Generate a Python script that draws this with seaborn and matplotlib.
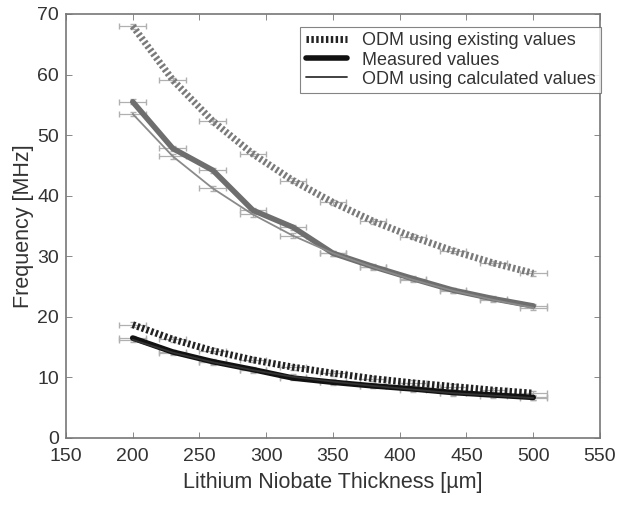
import matplotlib
matplotlib.use("Agg")
import matplotlib.pyplot as plt
import seaborn as sns
import pandas as pd

# thickness of the samples [um]
thickness = [200, 230, 260, 290, 320, 350, 380, 410, 440, 470, 500]

# upper set (grey)
odm_existing_hi = [68.0, 59.1, 52.3, 46.9, 42.5, 38.9, 35.8, 33.2, 30.9, 28.9, 27.2]
measured_hi = [55.5, 47.8, 44.2, 37.6, 34.8, 30.5, 28.3, 26.3, 24.4, 23.0, 21.8]
odm_calc_hi = [53.5, 46.5, 41.2, 36.9, 33.4, 30.5, 28.2, 26.1, 24.3, 22.8, 21.5]

# lower set (black)
odm_existing_lo = [18.7, 16.3, 14.4, 12.9, 11.7, 10.7, 9.8, 9.1, 8.5, 7.9, 7.4]
measured_lo = [16.5, 14.2, 12.6, 11.3, 9.9, 9.2, 8.6, 8.1, 7.5, 7.1, 6.7]
odm_calc_lo = [16.2, 14.1, 12.5, 11.2, 10.1, 9.3, 8.6, 8.0, 7.4, 7.0, 6.6]

x_err = 10
y_err = 0.4

sns.set_style("ticks")
plt.rcParams['font.family'] = ['Liberation Sans', 'DejaVu Sans']

fig = plt.figure(figsize=(6.18, 5.09), dpi=100)
ax = fig.add_axes([0.1068, 0.1395, 0.864, 0.833])

dotted = (0, (0.35, 0.35))
series = [
    (odm_existing_hi, "#7a7a7a", 5, dotted, None),
    (measured_hi, "#6e6e6e", 4, "-", None),
    (odm_calc_hi, "#8a8a8a", 1.3, "-", None),
    (odm_existing_lo, "#222222", 5, dotted, "ODM using existing values"),
    (measured_lo, "#111111", 4, "-", "Measured values"),
    (odm_calc_lo, "#333333", 1.3, "-", "ODM using calculated values"),
]

for vals, col, lw, ls, lab in series:
    ax.errorbar(thickness, vals, xerr=x_err, yerr=y_err, fmt="none",
                ecolor="#b0b0b0", elinewidth=0.9, capsize=2.5, zorder=1)
    df = pd.DataFrame({"t": thickness, "f": vals})
    sns.lineplot(data=df, x="t", y="f", ax=ax, color=col, linewidth=lw,
                 linestyle=ls, label=lab, legend=False, zorder=2)

# legend handles in black like the original
hs, ls_ = ax.get_legend_handles_labels()
leg = fig.legend(hs, ls_, loc="upper right", bbox_to_anchor=(0.972, 0.947),
                 fontsize=13, frameon=True, fancybox=False, edgecolor="#666666",
                 handlelength=2.3, handletextpad=0.8, borderpad=0.3,
                 labelspacing=0.12, borderaxespad=0)
leg.get_frame().set_linewidth(0.8)
for t in leg.get_texts():
    t.set_color("#333333")

ax.set_xlim(150, 550)
ax.set_ylim(0, 70)
ax.set_xticks(range(150, 551, 50))
ax.set_yticks(range(0, 71, 10))
ax.tick_params(direction="in", top=True, right=True, length=4, width=0.7,
               colors="#888888", labelcolor="#333333", labelsize=14)
ax.tick_params(axis="x", pad=7)
ax.tick_params(axis="y", pad=5)
for sp in ax.spines.values():
    sp.set_color("#777777")
    sp.set_linewidth(1.2)
    sp.set_visible(True)

ax.set_xlabel("Lithium Niobate Thickness [µm]", fontsize=15.5, color="#333333", labelpad=5)
ax.set_ylabel("Frequency [MHz]", fontsize=15.5, color="#333333", labelpad=2)

fig.savefig("out.png", dpi=100)
